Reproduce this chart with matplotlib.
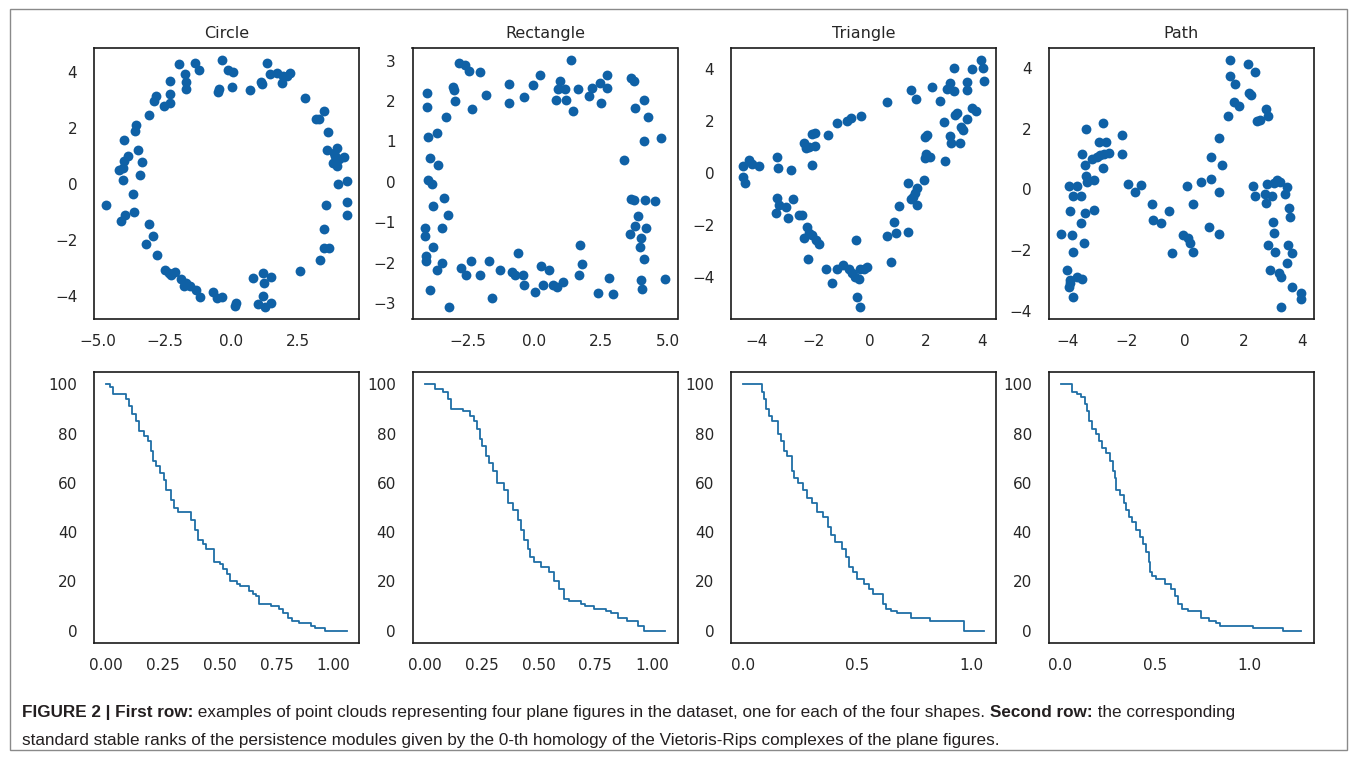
import matplotlib
matplotlib.use("Agg")
import matplotlib.pyplot as plt
from matplotlib.patches import Rectangle
from matplotlib.ticker import FuncFormatter

W, H, DPI = 1357, 757, 100

titles = ["Circle", "Rectangle", "Triangle", "Path"]

# ---------------- point clouds ----------------
circle_x = [-1.96, -1.33, -1.19, -0.35, -0.10, 0.09, 1.35, 1.47, 1.72, 1.95, 2.23, -1.74, -1.67, -1.67,
            -2.28, -0.45, -0.48, 0.03, 0.72, 1.13, 1.16, 1.91, 2.79, -2.81, -2.87, -2.30, -2.53, -2.30,
            -3.08, -3.56, -3.62, -4.03, -3.50, -3.87, -4.00, -3.35, -4.21, -4.06, -3.40, -4.06, -3.66,
            -4.69, -3.65, -3.97, -4.13, -3.09, -2.93, -3.18, -2.78, -2.47, -2.34, -2.11, -2.24, -1.86,
            -1.67, -1.77, -1.55, -1.30, -1.17, -0.67, -0.54, -0.35, 0.18, 0.15, 0.84, 1.22, 1.51, 1.25,
            1.22, 1.03, 1.28, 1.51, 2.58, 3.36, 3.48, 3.70, 3.51, 3.56, 4.36, 4.36, 4.01, 4.36, 3.99,
            3.84, 4.24, 3.61, 3.86, 3.99, 3.65, 3.30, 3.48, 3.21, 3.92, 4.05, 2.10]
circle_y = [4.26, 4.32, 4.05, 4.40, 4.06, 4.00, 4.30, 3.93, 3.96, 3.84, 3.96, 3.93, 3.63, 3.37,
            3.67, 3.37, 3.27, 3.46, 3.33, 3.63, 3.57, 3.61, 3.07, 3.13, 2.95, 3.19, 2.77, 2.89,
            2.44, 2.08, 1.90, 1.58, 1.19, 0.99, 0.81, 0.77, 0.51, 0.57, 0.33, 0.15, -0.35,
            -0.76, -1.00, -1.09, -1.31, -1.43, -1.85, -2.13, -2.52, -3.06, -3.18, -3.12, -3.24, -3.39,
            -3.51, -3.65, -3.65, -3.77, -4.03, -3.83, -4.05, -4.01, -4.25, -4.33, -3.34, -3.18, -3.30, -3.54,
            -3.99, -4.28, -4.37, -4.23, -3.09, -2.70, -2.29, -2.29, -1.60, -0.76, -0.65, -1.09, 0.00, 0.12, 0.65,
            0.75, 0.95, 1.20, 1.11, 1.29, 1.84, 2.30, 2.60, 2.30, 0.99, 0.87, 3.84]

rect_x = [-2.83, -2.60, -2.44, -2.02, -4.00, -4.00, -3.04, -3.01, -2.98, -2.32, -1.82, -3.29, -0.94,
          -0.94, -0.39, -0.07, 0.21, 0.96, 0.89, 0.79, 1.14, 1.17, 1.45, 1.37, 1.62, 2.02, 2.14, 2.45,
          2.70, 2.70, 2.48, 3.60, 3.73, 3.76, 4.08, 4.23, 4.08, 4.74, 3.35, -3.96, -3.64, -3.89, -3.60,
          -3.98, -3.84, -3.79, -3.39, -3.23, -3.45, -4.10, -4.10, -3.79, -4.06, -4.04, -3.64, -3.45,
          -3.91, -3.19, -2.73, -2.57, -2.37, -2.02, -1.70, -1.59, -1.29, -0.83, -0.73, -0.63, -0.42,
          -0.39, 0.02, 0.24, 0.33, 0.56, 0.71, 0.83, 1.05, 1.70, 1.77, 1.67, 2.39, 2.79, 2.95, 3.60,
          3.73, 4.11, 4.49, 3.86, 3.76, 4.18, 3.55, 3.99, 3.93, 4.08, 3.99, 4.03, 4.89]
rect_y = [2.94, 2.89, 2.75, 2.71, 2.19, 1.85, 2.36, 2.28, 2.00, 1.80, 2.15, 1.61, 2.43,
          1.96, 2.09, 2.41, 2.64, 2.50, 2.29, 2.03, 2.29, 2.03, 1.75, 3.01, 2.29, 2.13, 2.33, 2.46,
          2.64, 2.33, 1.96, 2.58, 2.50, 1.82, 2.03, 1.61, 1.01, 1.08, 0.54, 1.11, 1.22, 0.58, 0.43,
          0.04, -0.04, -0.60, -0.41, -0.81, -1.13, -1.13, -1.35, -1.60, -1.83, -1.97, -2.18, -2.00,
          -2.67, -3.09, -2.14, -2.31, -1.97, -2.31, -1.97, -2.88, -2.19, -2.22, -2.30, -1.76, -2.30,
          -2.55, -2.72, -2.08, -2.55, -2.18, -2.55, -2.61, -2.48, -1.57, -2.03, -2.30, -2.76, -2.37, -2.78, -0.42,
          -0.44, -0.46, -0.48, -0.85, -1.08, -1.13, -1.28, -1.39, -1.60, -1.90, -2.43, -2.65, -2.40]

tri_x = [-4.49, -4.28, -4.16, -3.92, -4.49, -4.42, -3.30, -3.25, -2.80, -3.30, -3.22, -2.98, -3.33,
         -2.90, -2.71, -2.51, -2.39, -2.21, -2.15, -2.03, -1.91, -1.80, -2.33, -2.17, -1.56, -1.32,
         -1.15, -0.93, -0.73, -0.61, -0.53, -0.38, -0.34, -0.20, -0.11, -0.50, -0.46, -0.35, -2.33,
         -2.27, -2.15, -2.06, -1.95, -1.95, -2.06, -1.48, -1.15, -0.79, -0.67, -0.30, 0.60, 1.45, 1.63,
         2.20, 2.49, 2.64, 2.85, 2.87, 2.99, 2.75, 2.85, 2.99, 3.01, 3.09, 3.20, 3.25, 3.32, 3.44, 3.46,
         3.44, 3.61, 3.64, 3.76, 3.94, 4.03, 4.05, 1.95, 2.04, 2.14, 1.95, 1.99, 2.66, 1.93, 1.69, 1.60,
         1.55, 1.45, 1.67, 1.34, 1.04, 0.86, 0.92, 0.63, 1.34, 0.74]
tri_y = [0.28, 0.51, 0.36, 0.28, -0.15, -0.36, 0.64, 0.22, 0.13, -0.96, -1.22, -1.29, -1.54,
         -1.74, -1.00, -1.61, -1.61, -2.08, -2.29, -2.38, -2.57, -2.73, -2.51, -3.31, -3.67, -4.24,
         -3.67, -3.54, -3.67, -3.86, -4.01, -4.09, -3.70, -3.67, -3.63, -2.57, -4.76, -5.14, 1.18,
         0.96, 1.00, 1.52, 1.54, 1.05, 0.32, 1.48, 1.95, 2.02, 2.12, 2.21, 2.75, 3.22, 2.86,
         3.32, 2.80, 1.99, 1.44, 1.16, 4.05, 3.24, 3.47, 3.15, 2.25, 2.32, 1.18, 1.80, 1.67, 3.22, 3.50,
         2.08, 2.51, 4.01, 2.38, 4.35, 4.05, 3.54, 1.41, 1.48, 0.64, 0.58, 0.75, 0.49, -0.26, -0.58, -0.77,
         -0.90, -1.00, -1.22, -0.36, -1.25, -1.86, -2.32, -2.42, -2.25, -3.41]

path_x = [-4.24, -3.96, -3.90, -3.86, -3.83, -3.81, -3.69, -3.54, -3.54, -3.44, -3.41, -3.49, -3.38,
          -3.41, -3.37, -3.35, -3.10, -3.10, -3.15, -2.99, -2.89, -2.78, -2.78, -2.92, -2.69, -2.75,
          -2.59, -2.15, -2.15, -1.92, -1.70, -1.50, -1.10, -1.07, -0.82, -0.52, -0.44, -0.06, 0.07,
          0.13, 0.19, 0.28, 0.30, 0.55, 0.82, 0.91, 0.91, 1.16, 1.19, 1.19, 1.27, 1.47, 1.56, 1.56,
          1.71, 1.70, 1.84, 2.16, 2.41, 2.19, 2.27, 2.33, 2.41, 2.47, 2.59, 2.79, 2.84, 2.81, 2.73,
          2.79, 2.98, 3.04, 3.16, 3.27, 3.02, 3.04, 2.84, 3.10, 2.91, 3.21, 3.29, 3.29, 3.48, 3.44,
          3.56, 3.61, 3.53, 3.65, 3.48, 3.67, 3.96, 3.99, -3.92, -3.92, -4.01, -3.69, -3.52, -3.81, -3.94]
path_y = [-1.46, 0.10, -0.72, -1.49, -0.23, -2.04, 0.10, -0.23, -1.11, -1.76, -0.78, 1.17, 1.98,
          0.81, 0.43, 0.26, 0.32, -0.67, 1.00, 1.06, 1.14, 2.18, 0.72, 1.55, 1.55, 1.17,
          1.19, 1.80, 1.17, 0.18, -0.09, 0.13, -0.48, -1.00, -1.11, -0.70, -2.09, -1.51, 0.10,
          -1.60, -1.76, -2.04, -0.48, 0.23, -1.22, 1.08, 0.34, -1.47, 1.69, -0.07, 0.81, 2.42, 4.24, 3.74,
          3.46, 2.86, 2.75, 4.13, 3.86, 3.17, 3.11, 0.12, -0.20, 2.24, 2.29, 2.64, 2.42, 0.19, -0.14,
          -0.43, -0.23, 0.21, 0.32, 0.23, -1.08, -1.44, -1.82, -2.04, -2.64, -2.75, -2.89, -3.85, 0.07, -0.15,
          -0.61, -0.89, -1.82, -2.09, -2.40, -3.19, -3.39, -3.59, -2.97, -3.06, -2.64, -2.88, -2.95, -3.54, -3.19]

# ---------------- stable ranks (step breakpoints) ----------------
circle_t = [0.0, 0.019, 0.032, 0.088, 0.10, 0.115, 0.132, 0.147, 0.165, 0.184, 0.199, 0.206, 0.218,
            0.238, 0.253, 0.265, 0.284, 0.301, 0.316, 0.375, 0.39, 0.404, 0.426, 0.44, 0.474, 0.50,
            0.515, 0.53, 0.545, 0.575, 0.59, 0.63, 0.645, 0.66, 0.672, 0.725, 0.76, 0.78, 0.80, 0.82,
            0.85, 0.90, 0.92, 0.963, 1.06]
circle_r = [100, 99, 96, 94, 91, 88, 85, 81, 79, 77, 73, 69, 67, 64, 61, 57, 53, 50, 48, 45, 41, 37,
            35, 33, 28, 27, 25, 23, 20, 19, 18, 16, 15, 14, 11, 10, 9, 7, 5, 4, 3, 2, 1, 0, 0]

rect_t = [0.0, 0.047, 0.08, 0.105, 0.117, 0.134, 0.168, 0.20, 0.219, 0.23, 0.242, 0.251, 0.27, 0.285,
          0.30, 0.32, 0.347, 0.365, 0.387, 0.409, 0.423, 0.438, 0.453, 0.464, 0.482, 0.511, 0.547,
          0.569, 0.591, 0.613, 0.635, 0.686, 0.704, 0.745, 0.796, 0.82, 0.851, 0.89, 0.939, 0.964, 1.058]
rect_r = [100, 98, 97, 94, 90, 90, 89, 87, 85, 82, 78, 75, 71, 68, 65, 60, 57, 52, 49, 45, 41, 37,
          33, 30, 28, 26, 24, 20, 17, 13, 12, 11, 10, 9, 8, 7, 5, 4, 2, 0, 0]

tri_t = [0.0, 0.083, 0.09, 0.102, 0.112, 0.127, 0.152, 0.164, 0.178, 0.19, 0.212, 0.222, 0.24, 0.263,
         0.281, 0.30, 0.322, 0.351, 0.371, 0.386, 0.40, 0.434, 0.449, 0.463, 0.481, 0.497, 0.529,
         0.551, 0.57, 0.613, 0.624, 0.646, 0.675, 0.734, 0.819, 0.917, 0.965, 1.053]
tri_r = [100, 97, 94, 90, 87, 85, 80, 77, 73, 71, 65, 62, 60, 57, 54, 52, 48, 46, 42, 39, 36, 33, 30,
         26, 24, 21, 19, 17, 15, 11, 9, 8, 7, 5, 4, 4, 0, 0]

path_t = [0.0, 0.062, 0.086, 0.109, 0.127, 0.139, 0.153, 0.168, 0.185, 0.203, 0.22, 0.238, 0.263,
          0.277, 0.286, 0.295, 0.312, 0.333, 0.347, 0.362, 0.379, 0.40, 0.418, 0.436, 0.453, 0.466,
          0.474, 0.483, 0.506, 0.55, 0.586, 0.603, 0.621, 0.644, 0.674, 0.744, 0.785, 0.824, 0.841,
          1.018, 1.173, 1.273]
path_r = [100, 97, 96, 95, 92, 89, 85, 82, 80, 77, 74, 72, 69, 65, 62, 57, 55, 52, 49, 46, 44, 41,
          38, 35, 32, 28, 24, 22, 21, 19, 17, 14, 11, 9, 8, 5, 4, 3, 2, 1, 0, 0]

clouds = [(circle_x, circle_y), (rect_x, rect_y), (tri_x, tri_y), (path_x, path_y)]
ranks = [(circle_t, circle_r), (rect_t, rect_r), (tri_t, tri_r), (path_t, path_r)]

top_xticks = [[-5, -2.5, 0, 2.5], [-2.5, 0, 2.5, 5], [-4, -2, 0, 2, 4], [-4, -2, 0, 2, 4]]
top_yticks = [[-4, -2, 0, 2, 4], [-3, -2, -1, 0, 1, 2, 3], [-4, -2, 0, 2, 4], [-4, -2, 0, 2, 4]]
top_xfmt = ["%.1f", "%.1f", "%d", "%d"]
bot_xticks = [[0, 0.25, 0.5, 0.75, 1.0], [0, 0.25, 0.5, 0.75, 1.0], [0, 0.5, 1.0], [0, 0.5, 1.0]]
bot_xfmt = ["%.2f", "%.2f", "%.1f", "%.1f"]
bot_yticks = [0, 20, 40, 60, 80, 100]

DOT = "#0f61a6"
LINE = "#1f6ea6"
TXT = "#262626"

fig = plt.figure(figsize=(W / DPI, H / DPI), dpi=DPI)
fig.patch.set_facecolor("white")

lefts = [94, 412.5, 731, 1048.5]
AW = 265


def rect(lpx, tpx, bpx):
    return [lpx / W, 1 - bpx / H, AW / W, (bpx - tpx) / H]


def fmt(f):
    return FuncFormatter(lambda v, p: (f % v).replace("-", "\u2212"))


def style(ax):
    for s in ax.spines.values():
        s.set_color("#1a1a1a")
        s.set_linewidth(1.2)
    ax.tick_params(axis="both", length=0, labelsize=11, colors=TXT)
    ax.tick_params(axis="x", pad=11)
    ax.tick_params(axis="y", pad=12)


for i in range(4):
    ax = fig.add_axes(rect(lefts[i], 48, 319))
    xs, ys = clouds[i]
    ax.scatter(xs, ys, s=50, color=DOT, linewidths=0)
    ax.set_xticks(top_xticks[i])
    ax.set_yticks(top_yticks[i])
    ax.xaxis.set_major_formatter(fmt(top_xfmt[i]))
    ax.yaxis.set_major_formatter(fmt("%d"))
    ax.set_title(titles[i], fontsize=11.5, color=TXT, pad=7)
    style(ax)

    ax2 = fig.add_axes(rect(lefts[i], 372, 643))
    t, r = ranks[i]
    ax2.step(t, r, where="post", color=LINE, lw=1.3)
    ax2.set_xticks(bot_xticks[i])
    ax2.set_yticks(bot_yticks)
    ax2.xaxis.set_major_formatter(fmt(bot_xfmt[i]))
    style(ax2)

# outer frame
fig.patches.append(Rectangle((10 / W, 1 - 750 / H), 1337 / W, 741 / H, transform=fig.transFigure,
                             fill=False, edgecolor="#8a8a8a", lw=1.0))

# caption
fig.canvas.draw()
rend = fig.canvas.get_renderer()
CAPF = ["Liberation Sans", "DejaVu Sans"]
CAPC = "#231f20"
line2 = ("standard stable ranks of the persistence modules given by the 0-th homology of the "
         "Vietoris-Rips complexes of the plane figures.")
pieces1 = [("FIGURE 2 | First row:", True),
           (" examples of point clouds representing four plane figures in the dataset, one for each of the four shapes. ", False),
           ("Second row:", True),
           (" the corresponding", False)]

w1 = 0.0
for s, b in pieces1:
    pr = fig.text(0, 0, s, fontsize=10, family=CAPF, fontweight="bold" if b else "normal")
    w1 += pr.get_window_extent(renderer=rend).width
    pr.remove()
fs = 10 * (1240 - 22) / w1

x = 22
for s, b in pieces1:
    t = fig.text(x / W, 1 - 717 / H, s, fontsize=fs, family=CAPF, color=CAPC,
                 fontweight="bold" if b else "normal", va="baseline", ha="left")
    x += t.get_window_extent(renderer=rend).width
fig.text(22 / W, 1 - 745 / H, line2, fontsize=fs, family=CAPF, color=CAPC, va="baseline", ha="left")

fig.savefig("out.png", dpi=DPI)
